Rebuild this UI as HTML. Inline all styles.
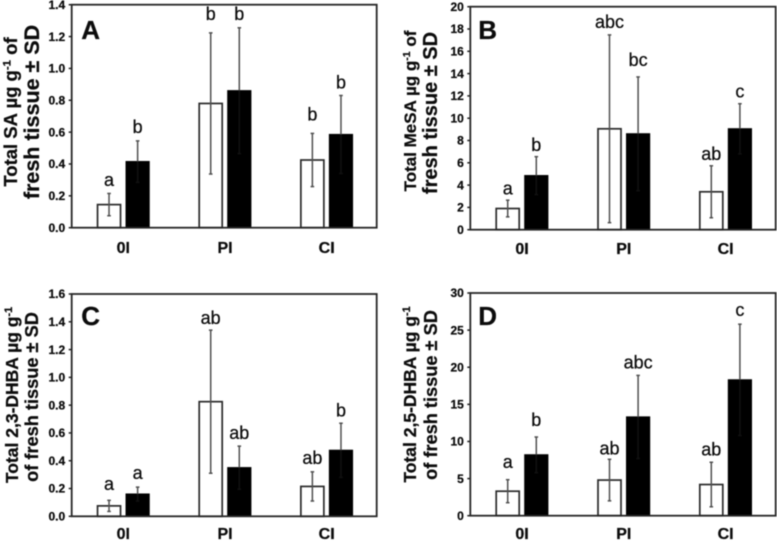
<!DOCTYPE html>
<html lang="en">
<head>
<meta charset="utf-8">
<title>Total SA, MeSA and DHBA bar charts</title>
<style>
html,body{margin:0;padding:0;background:#fff;width:777px;height:542px;overflow:hidden}
svg{display:block;filter:blur(0.5px)}
text{font-family:"Liberation Sans",Arial,sans-serif;fill:#0c0c0c;stroke:#0c0c0c;stroke-width:0.25px}
</style>
</head>
<body>
<svg id="chart" xmlns="http://www.w3.org/2000/svg" width="777" height="542" viewBox="0 0 777 542"></svg>
<script>
const categories = ["0I", "PI", "CI"];

const aTicks = ["0.0", "0.2", "0.4", "0.6", "0.8", "1.0", "1.2", "1.4"];
const aWhite = [0.145, 0.78, 0.425];
const aBlack = [0.415, 0.86, 0.585];
const aWhiteSd = [0.07, 0.443, 0.167];
const aBlackSd = [0.13, 0.395, 0.245];
const aWhiteLetters = ["a", "b", "b"];
const aBlackLetters = ["b", "b", "b"];
const aWhiteLetterAt = [0.262, 1.304, 0.672];
const aBlackLetterAt = [0.596, 1.304, 0.875];

const bTicks = ["0", "2", "4", "6", "8", "10", "12", "14", "16", "18", "20"];
const bWhite = [1.9, 9.05, 3.4];
const bBlack = [4.85, 8.6, 9.05];
const bWhiteSd = [0.75, 8.42, 2.33];
const bBlackSd = [1.7, 5.1, 2.25];
const bWhiteLetters = ["a", "abc", "ab"];
const bBlackLetters = ["b", "bc", "c"];
const bWhiteLetterAt = [3.17, 18.09, 6.25];
const bBlackLetterAt = [7.08, 14.7, 11.84];

const cTicks = ["0.0", "0.2", "0.4", "0.6", "0.8", "1.0", "1.2", "1.4", "1.6"];
const cWhite = [0.075, 0.825, 0.215];
const cBlack = [0.16, 0.35, 0.475];
const cWhiteSd = [0.04, 0.515, 0.105];
const cBlackSd = [0.05, 0.155, 0.195];
const cWhiteLetters = ["a", "ab", "ab"];
const cBlackLetters = ["a", "ab", "b"];
const cWhiteLetterAt = [0.189, 1.383, 0.378];
const cBlackLetterAt = [0.27, 0.558, 0.72];

const dTicks = ["0", "5", "10", "15", "20", "25", "30"];
const dWhite = [3.3, 4.8, 4.2];
const dBlack = [8.2, 13.3, 18.3];
const dWhiteSd = [1.55, 2.8, 3.0];
const dBlackSd = [2.4, 5.6, 7.5];
const dWhiteLetters = ["a", "ab", "ab"];
const dBlackLetters = ["b", "abc", "c"];
const dWhiteLetterAt = [6.42, 8.27, 8.13];
const dBlackLetterAt = [12.08, 19.8, 26.9];

const NS = "http://www.w3.org/2000/svg";
const root = document.getElementById("chart");

function make(parent, tag, attrs, text) {
  const el = document.createElementNS(NS, tag);
  for (const k in attrs) el.setAttribute(k, attrs[k]);
  if (text !== undefined) el.textContent = text;
  parent.appendChild(el);
  return el;
}

function drawTitleLine(g, x, cy, size, before, sup, after, name) {
  const t = make(g, "text", {
    transform: "translate(" + x + "," + cy + ") rotate(-90)",
    "text-anchor": "middle",
    "font-size": size,
    "font-weight": "bold"
  });
  
  
  make(t, "tspan", {}, before);
  if (sup) {
    make(t, "tspan", { dy: -size * 0.35, "font-size": size * 0.62 }, sup);
    make(t, "tspan", { dy: size * 0.35 }, after);
  }
}

function drawPanel(p) {
  const g = make(root, "g", {});
  
  

  const yMax = Number(p.ticks[p.ticks.length - 1]);
  const yScale = v => p.bottom - (v / yMax) * (p.bottom - p.top);
  const width = p.right - p.left;
  const band = width / categories.length;
  const barW = 23;
  const gap = 5.6;

  // tick marks and labels
  p.ticks.forEach(label => {
    const y = yScale(Number(label));
    const tick = make(g, "line", { x1: p.left - 3, x2: p.left, y1: y, y2: y, stroke: "#222", "stroke-width": 1.5 });
    
    
    const tl = make(g, "text", { x: p.left - 6.5, y: y + 4.2, "text-anchor": "end", "font-size": 12, "font-weight": "bold" }, label);
    
    
  });

  // bars, error bars, letters
  categories.forEach((cat, i) => {
    const center = p.left + band * (i + 0.5) + 0.8;
    const whiteX = center - gap / 2 - barW;
    const blackX = center + gap / 2;

    const wb = make(g, "rect", {
      x: whiteX, y: yScale(p.white[i]), width: barW, height: p.bottom - yScale(p.white[i]),
      fill: "#fff", stroke: "#2a2a2a", "stroke-width": 1.7
    });
    
    

    const bb = make(g, "rect", {
      x: blackX, y: yScale(p.black[i]), width: barW, height: p.bottom - yScale(p.black[i]),
      fill: "#000", stroke: "#000", "stroke-width": 1.2
    });
    
    

    const drawErr = (cx, mean, sd, color, name) => {
      const hi = yScale(mean + sd);
      const lo = yScale(mean - sd);
      const e = make(g, "g", { stroke: "#505050", "stroke-width": 1.5 });
      
      
      make(e, "line", { x1: cx, x2: cx, y1: hi, y2: yScale(mean) });
      make(e, "line", { x1: cx, x2: cx, y1: yScale(mean), y2: lo, stroke: color });
      make(e, "line", { x1: cx - 1.8, x2: cx + 1.8, y1: hi, y2: hi });
      make(e, "line", { x1: cx - 1.8, x2: cx + 1.8, y1: lo, y2: lo, stroke: color });
    };
    drawErr(whiteX + barW / 2, p.white[i], p.whiteSd[i], "#505050", 'error-bar-white-' + cat);
    drawErr(blackX + barW / 2, p.black[i], p.blackSd[i], "#111111", 'error-bar-black-' + cat);

    const wl = make(g, "text", { x: whiteX + barW / 2, y: yScale(p.whiteLetterAt[i]), "text-anchor": "middle", "font-size": 18 }, p.whiteLetters[i]);
    
    
    const bl = make(g, "text", { x: blackX + barW / 2, y: yScale(p.blackLetterAt[i]), "text-anchor": "middle", "font-size": 18 }, p.blackLetters[i]);
    
    

    const cl = make(g, "text", { x: center, y: p.catY, "text-anchor": "middle", "font-size": 16, "font-weight": "bold" }, cat);
    
    
  });

  // frame
  const frame = make(g, "rect", {
    x: p.left, y: p.top, width: width, height: p.bottom - p.top,
    fill: "none", stroke: "#262626", "stroke-width": 1.8
  });
  
  

  // panel letter
  const pl = make(g, "text", { x: p.left + (p.key === "A" || p.key === "C" ? 9.5 : 8), y: p.letterY, "font-size": 26, "font-weight": "bold" }, p.key);
  
  

  // y-axis titles
  drawTitleLine(g, p.title1X, p.title1Y, p.title1Size, p.title1[0], p.title1[1], p.title1[2], 'y-axis-title-line-1');
  drawTitleLine(g, p.title2X, p.title2Y, p.title2Size, p.title2, "", "", 'y-axis-title-line-2');
}

drawPanel({
  key: "A", ticks: aTicks,
  white: aWhite, black: aBlack, whiteSd: aWhiteSd, blackSd: aBlackSd,
  whiteLetters: aWhiteLetters, blackLetters: aBlackLetters,
  whiteLetterAt: aWhiteLetterAt, blackLetterAt: aBlackLetterAt,
  left: 71.7, right: 376.7, top: 4.7, bottom: 227.7, catY: 253, letterY: 39,
  title1Size: 18.5, title2Size: 21.5,
  title1: ["Total SA µg g", "-1", " of"], title1X: 17, title1Y: 112,
  title2: "fresh tissue ± SD", title2X: 39, title2Y: 112
});
drawPanel({
  key: "B", ticks: bTicks,
  white: bWhite, black: bBlack, whiteSd: bWhiteSd, blackSd: bBlackSd,
  whiteLetters: bWhiteLetters, blackLetters: bBlackLetters,
  whiteLetterAt: bWhiteLetterAt, blackLetterAt: bBlackLetterAt,
  left: 470.3, right: 775.7, top: 6.7, bottom: 229.7, catY: 254, letterY: 39,
  title1Size: 17, title2Size: 20,
  title1: ["Total MeSA µg g", "-1", " of"], title1X: 416, title1Y: 111,
  title2: "fresh tissue ± SD", title2X: 437, title2Y: 113
});
drawPanel({
  key: "C", ticks: cTicks,
  white: cWhite, black: cBlack, whiteSd: cWhiteSd, blackSd: cBlackSd,
  whiteLetters: cWhiteLetters, blackLetters: cBlackLetters,
  whiteLetterAt: cWhiteLetterAt, blackLetterAt: cBlackLetterAt,
  left: 71.7, right: 376.7, top: 294, bottom: 516.3, catY: 539, letterY: 325,
  title1Size: 17.5, title2Size: 18.2,
  title1: ["Total 2,3-DHBA µg g", "-1", ""], title1X: 18, title1Y: 395,
  title2: "of fresh tissue ± SD", title2X: 38, title2Y: 397
});
drawPanel({
  key: "D", ticks: dTicks,
  white: dWhite, black: dBlack, whiteSd: dWhiteSd, blackSd: dBlackSd,
  whiteLetters: dWhiteLetters, blackLetters: dBlackLetters,
  whiteLetterAt: dWhiteLetterAt, blackLetterAt: dBlackLetterAt,
  left: 470.3, right: 775.7, top: 293, bottom: 515.7, catY: 539, letterY: 325,
  title1Size: 17.5, title2Size: 18.2,
  title1: ["Total 2,5-DHBA µg g", "-1", ""], title1X: 416, title1Y: 394.5,
  title2: "of fresh tissue ± SD", title2X: 437, title2Y: 395
});
</script>
</body>
</html>
